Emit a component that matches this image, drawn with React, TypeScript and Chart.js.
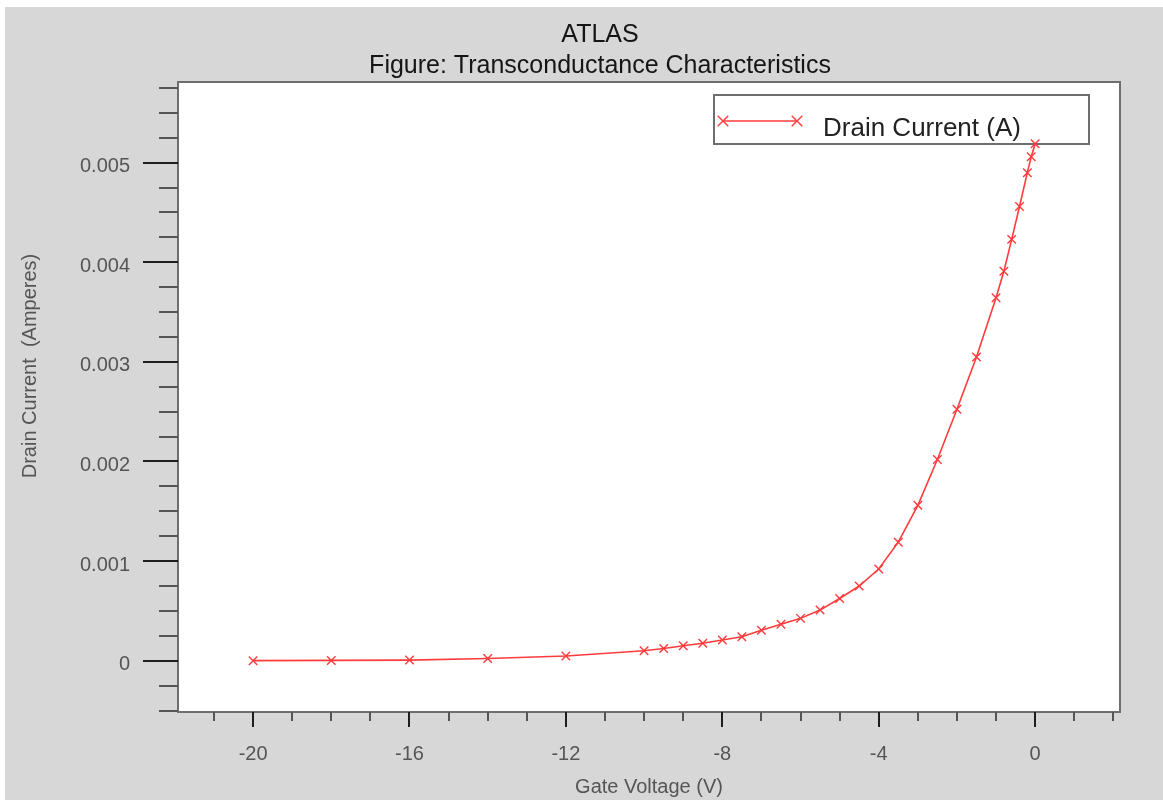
import { useEffect, useRef } from "react";
import { Chart, registerables } from "chart.js";

Chart.register(...registerables);

// ---- content ----
const chartTitle = ["ATLAS", "Figure: Transconductance Characteristics"];
const seriesLabel = "Drain Current (A)";
const xAxisTitle = "Gate Voltage (V)";
const yAxisTitle = "Drain Current  (Amperes)";

// ---- data ----
const gateVoltage = [
  -20, -18, -16, -14, -12, -10, -9.5, -9, -8.5, -8, -7.5, -7, -6.5, -6, -5.5, -5,
  -4.5, -4, -3.5, -3, -2.5, -2, -1.5, -1, -0.8, -0.6, -0.4, -0.2, -0.1, 0,
];
const drainCurrent = [
  0.0000005, 0.000003, 0.000006, 0.000022, 0.000047, 0.0001, 0.000123, 0.00015,
  0.000175, 0.000207, 0.00024, 0.000305, 0.000365, 0.000425, 0.000508, 0.000625,
  0.00075, 0.00092, 0.00119, 0.00156, 0.00202, 0.002525, 0.00305, 0.003645,
  0.00391, 0.00423, 0.00456, 0.0049, 0.00506, 0.00519,
];

// ---- axes ----
const xRange = [-21.92, 2.17];
const yRange = [-0.000515, 0.00581];
const xMajorTicks = [-20, -16, -12, -8, -4, 0];
const xMinorTickSpan = [-21, 2, 1]; // start, end, step
const yMajorTicks = [0, 0.001, 0.002, 0.003, 0.004, 0.005];
const yMinorTickSpan = [-0.0005, 0.00575, 0.00025];

// ---- styles ----
const FONT = "'Liberation Sans', Arial, Helvetica, sans-serif";
const BG = "#d7d7d7";
const FRAME = "#6e6e6e";
const LABEL = "#555555";
const RED = "#ff3b3b";

function tickList(span: number[]) {
  const [start, end, step] = span;
  const n = Math.round((end - start) / step);
  const out: number[] = [];
  for (let i = 0; i <= n; i++) out.push(Math.round((start + i * step) * 1e9) / 1e9);
  return out;
}
function isMajor(v: number, majors: number[], step: number) {
  return majors.some((m) => Math.abs(m - v) < step / 10);
}

function drawCross(ctx: CanvasRenderingContext2D, x: number, y: number, r: number) {
  const d = r * Math.SQRT1_2;
  ctx.beginPath();
  ctx.moveTo(x - d, y - d);
  ctx.lineTo(x + d, y + d);
  ctx.moveTo(x - d, y + d);
  ctx.lineTo(x + d, y - d);
  ctx.stroke();
}

const decorPlugin = {
  id: "atlasDecor",
  beforeDraw(chart: any) {
    const { ctx, width, height, chartArea: a } = chart;
    ctx.save();
    ctx.fillStyle = BG;
    ctx.fillRect(0, 0, width, height);
    ctx.fillStyle = "#ffffff";
    ctx.fillRect(a.left, a.top, a.right - a.left, a.bottom - a.top);
    ctx.restore();
  },
  beforeDatasetsDraw(chart: any) {
    // boxed legend inside the plot area
    const { ctx, chartArea: a } = chart;
    const left = a.right - 406;
    const top = a.top + 13;
    ctx.save();
    ctx.fillStyle = "#ffffff";
    ctx.fillRect(left, top, 375, 49);
    ctx.strokeStyle = FRAME;
    ctx.lineWidth = 2;
    ctx.strokeRect(left, top, 375, 49);
    ctx.strokeStyle = RED;
    ctx.lineWidth = 1.6;
    ctx.beginPath();
    ctx.moveTo(left + 9, top + 26);
    ctx.lineTo(left + 83, top + 26);
    ctx.stroke();
    ctx.lineWidth = 1.4;
    drawCross(ctx, left + 9, top + 26, 7.5);
    drawCross(ctx, left + 83, top + 26, 7.5);
    ctx.fillStyle = "#222222";
    ctx.font = `26px ${FONT}`;
    ctx.textBaseline = "alphabetic";
    ctx.textAlign = "left";
    ctx.fillText(chart.data.datasets[0].label, left + 109, top + 41);
    ctx.restore();
  },
  afterDraw(chart: any) {
    const { ctx, chartArea: a, scales } = chart;
    ctx.save();
    // frame
    ctx.strokeStyle = FRAME;
    ctx.lineWidth = 2;
    ctx.strokeRect(a.left, a.top, a.right - a.left, a.bottom - a.top);
    // y ticks
    const ys = scales.y;
    ctx.lineWidth = 2;
    for (const t of ys.ticks) {
      const major = isMajor(t.value, yMajorTicks, yMinorTickSpan[2]);
      const y = Math.round(ys.getPixelForValue(t.value));
      ctx.strokeStyle = major ? "#1e1e1e" : "#555555";
      ctx.beginPath();
      ctx.moveTo(a.left - (major ? 35 : 19), y);
      ctx.lineTo(a.left, y);
      ctx.stroke();
    }
    // x ticks
    const xs = scales.x;
    for (const t of xs.ticks) {
      const major = isMajor(t.value, xMajorTicks, xMinorTickSpan[2]);
      const x = Math.round(xs.getPixelForValue(t.value));
      ctx.strokeStyle = major ? "#1e1e1e" : "#555555";
      ctx.beginPath();
      ctx.moveTo(x, a.bottom);
      ctx.lineTo(x, a.bottom + (major ? 15 : 9));
      ctx.stroke();
    }
    // y axis title
    ctx.fillStyle = LABEL;
    ctx.font = `20px ${FONT}`;
    ctx.textAlign = "center";
    ctx.textBaseline = "alphabetic";
    ctx.translate(31, a.top + 284);
    ctx.rotate(-Math.PI / 2);
    ctx.fillText(yAxisTitle, 0, 0);
    ctx.restore();
  },
};

export default function App() {
  const ref = useRef<HTMLCanvasElement | null>(null);

  useEffect(() => {
    if (!ref.current) return;
    const chart = new Chart(ref.current, {
      type: "line",
      data: {
        datasets: [
          {
            label: seriesLabel,
            data: gateVoltage.map((x, i) => ({ x, y: drainCurrent[i] })),
            borderColor: RED,
            backgroundColor: RED,
            borderWidth: 1.6,
            tension: 0,
            pointStyle: "crossRot",
            pointRadius: 6,
            pointBorderWidth: 1.4,
            pointBorderColor: RED,
            fill: false,
          },
        ],
      },
      options: {
        animation: false,
        responsive: false,
        events: [],
        layout: { padding: { left: 75, right: 43, top: 0, bottom: 0 } },
        plugins: {
          legend: { display: false },
          tooltip: { enabled: false },
          title: {
            display: true,
            text: chartTitle,
            color: "#151515",
            font: { family: FONT, size: 25, weight: "normal", lineHeight: 1.24 },
            padding: { top: 13, bottom: 0 },
          },
        },
        scales: {
          x: {
            type: "linear",
            position: "bottom",
            min: xRange[0],
            max: xRange[1],
            afterFit: (s: any) => {
              s.height = 88;
            },
            afterBuildTicks: (s: any) => {
              s.ticks = tickList(xMinorTickSpan).map((v) => ({ value: v }));
            },
            grid: { display: false, drawTicks: false },
            border: { display: false },
            ticks: {
              autoSkip: false,
              maxRotation: 0,
              padding: 30,
              color: LABEL,
              font: { family: FONT, size: 20 },
              callback: (v: any) =>
                isMajor(Number(v), xMajorTicks, xMinorTickSpan[2]) ? String(Math.round(Number(v))) : "",
            },
            title: {
              display: true,
              text: xAxisTitle,
              color: LABEL,
              font: { family: FONT, size: 20 },
              padding: { top: 0, bottom: 1 },
            },
          },
          y: {
            type: "linear",
            position: "left",
            min: yRange[0],
            max: yRange[1],
            afterFit: (s: any) => {
              s.width = 98;
            },
            afterBuildTicks: (s: any) => {
              s.ticks = tickList(yMinorTickSpan).map((v) => ({ value: v }));
            },
            grid: { display: false, drawTicks: false },
            border: { display: false },
            ticks: {
              autoSkip: false,
              padding: 48,
              labelOffset: 4,
              color: LABEL,
              font: { family: FONT, size: 20 },
              callback: (v: any) => {
                const n = Number(v);
                if (!isMajor(n, yMajorTicks, yMinorTickSpan[2])) return "";
                return Math.abs(n) < 1e-9 ? "0" : n.toFixed(3);
              },
            },
          },
        },
      },
      plugins: [decorPlugin],
    } as any);
    return () => chart.destroy();
  }, []);

  return (
    <div style={{ position: "absolute", left: 5, top: 7, width: 1158, height: 793 }}>
      <canvas ref={ref} width={1158} height={793} style={{ display: "block" }} />
    </div>
  );
}
